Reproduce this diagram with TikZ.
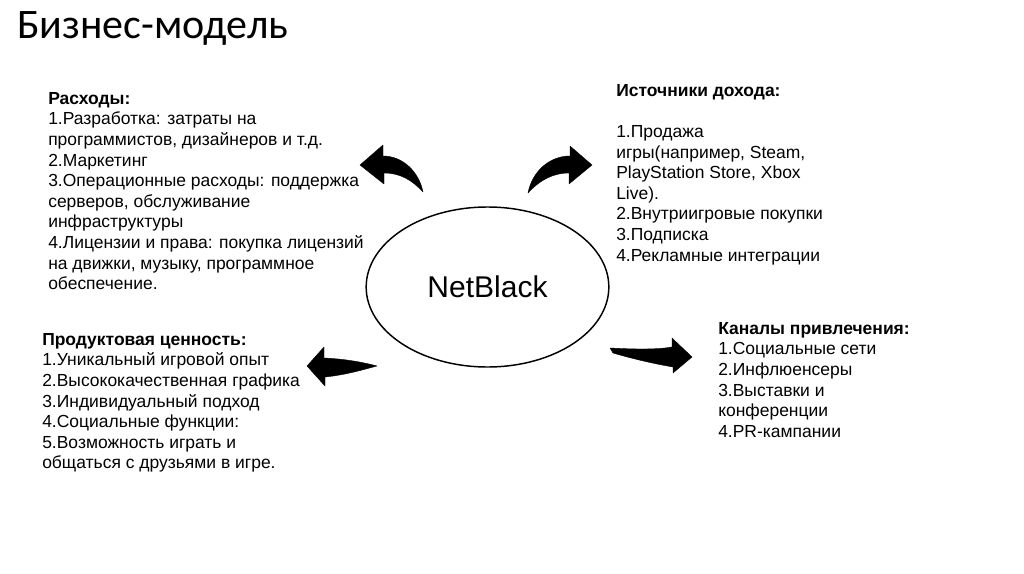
\documentclass[tikz,border=0pt]{standalone}
\usepackage{fontspec}
\setmainfont{Liberation Sans}
\newfontfamily\titlefont{Carlito}
\usetikzlibrary{shapes.geometric}

\begin{document}
\begin{tikzpicture}[
    x=0.75pt, y=-0.75pt,
    every node/.style={inner sep=0pt},
    txt/.style={anchor=north west, align=left,
        font=\fontsize{13.1}{15.45}\selectfont},
    hub/.style={ellipse, draw, line width=1.1pt,
        minimum width=182pt, minimum height=120pt,
        font=\fontsize{22.5}{26}\selectfont},
    bigarrow/.style={fill=black, draw=black, line width=0.3pt, line join=round},
]
\useasboundingbox (0,0) rectangle (1024,574);

% Title
\node[anchor=base west, font=\titlefont\fontsize{31.5}{36}\selectfont]
    (title) at (17,39) {Бизнес-модель};

% Centre
\node[hub] (netblack) at (487.5,287) {NetBlack};

% Blocks
\node[txt] (costs) at (48,92)
    {\textbf{Расходы:}\\
     1.Разработка: затраты на\\
     программистов, дизайнеров и т.д.\\
     2.Маркетинг\\
     3.Операционные расходы: поддержка\\
     серверов, обслуживание\\
     инфраструктуры\\
     4.Лицензии и права: покупка лицензий\\
     на движки, музыку, программное\\
     обеспечение.};

\node[txt] (income) at (616,84)
    {\textbf{Источники дохода:}\\[15.45pt]
     1.Продажа\\
     игры(например, Steam,\\
     PlayStation Store, Xbox\\
     Live).\\
     2.Внутриигровые покупки\\
     3.Подписка\\
     4.Рекламные интеграции};

\node[txt] (value) at (42,333)
    {\textbf{Продуктовая ценность:}\\
     1.Уникальный игровой опыт\\
     2.Высококачественная графика\\
     3.Индивидуальный подход\\
     4.Социальные функции:\\
     5.Возможность играть и\\
     общаться с друзьями в игре.};

\node[txt] (channels) at (718,322)
    {\textbf{Каналы привлечения:}\\
     1.Социальные сети\\
     2.Инфлюенсеры\\
     3.Выставки и\\
     конференции\\
     4.PR-кампании};

% Block arrows
\fill[bigarrow] (360,165) -- (383,145) -- (383,156)
    .. controls (403,156) and (419,172) .. (423,192)
    .. controls (412,180) and (400,173) .. (384,173)
    -- (384,184) -- cycle;
\fill[bigarrow] (592,165) -- (570,146) -- (570,156)
    .. controls (549,156) and (532,172) .. (528,193)
    .. controls (540,180) and (553,173) .. (569,173)
    -- (569,184) -- cycle;
\fill[bigarrow] (307,366) -- (324,347) -- (324,358)
    .. controls (345,359) and (362,362) .. (377,366)
    .. controls (362,370) and (345,375) .. (325,377)
    -- (325,386) -- cycle;
\fill[bigarrow] (692,357) -- (673,373) -- (673,367)
    .. controls (650,363) and (630,358) .. (613,353)
    -- (610,348)
    .. controls (630,349) and (655,350) .. (672,347)
    -- (672,338) -- cycle;

\end{tikzpicture}
\end{document}
